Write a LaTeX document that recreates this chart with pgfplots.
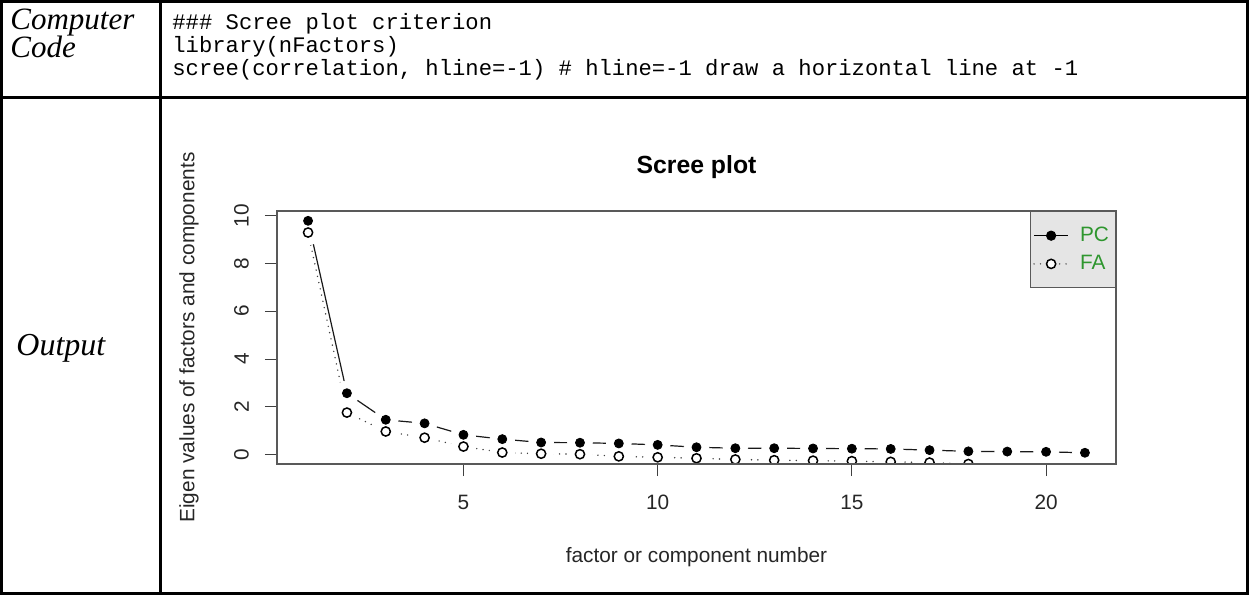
\documentclass[border=0pt]{standalone}
\usepackage{fontspec}
\setmainfont{Liberation Sans}
\newfontfamily\tnr{Liberation Serif}
\newfontfamily\cour{Liberation Mono}
\usepackage{pgfplots}
\pgfplotsset{compat=1.18}
\usepackage{pgfplotstable}

\pgfplotstableread{
x pc fa
1 9.78 9.29
2 2.57 1.76
3 1.46 0.97
4 1.31 0.71
5 0.83 0.34
6 0.65 0.09
7 0.51 0.04
8 0.50 0.02
9 0.47 -0.07
10 0.41 -0.11
11 0.31 -0.15
12 0.27 -0.20
13 0.27 -0.23
14 0.26 -0.25
15 0.25 -0.27
16 0.24 -0.30
17 0.19 -0.33
18 0.14 -0.39
19 0.13 -0.44
20 0.12 -0.52
21 0.08 -0.56
}\screedata

\definecolor{leggreen}{RGB}{46,150,46}
\definecolor{legbg}{RGB}{229,229,229}

\begin{document}
\begin{tikzpicture}
\useasboundingbox (0,0) rectangle (624.5pt,-297.5pt);
% table frame
\draw[line width=1.5pt] (0.75pt,-0.75pt) rectangle (623.75pt,-296.75pt);
\draw[line width=1.5pt] (80pt,-0.75pt) -- (80pt,-296.75pt);
\draw[line width=1.5pt] (0.75pt,-48.5pt) -- (623.75pt,-48.5pt);
% left column
\node[anchor=base west, inner sep=0pt, font=\tnr\itshape\fontsize{15.5}{19}\selectfont] at (5pt,-14.5pt) {Computer};
\node[anchor=base west, inner sep=0pt, font=\tnr\itshape\fontsize{15.5}{19}\selectfont] at (5pt,-28.5pt) {Code};
\node[anchor=base west, inner sep=0pt, font=\tnr\itshape\fontsize{16}{19}\selectfont] at (8pt,-177.5pt) {Output};
% code
\node[anchor=base west, inner sep=0pt, font=\cour\fontsize{11.1}{13}\selectfont] at (86pt,-14.5pt) {\#\#\# Scree plot criterion};
\node[anchor=base west, inner sep=0pt, font=\cour\fontsize{11.1}{13}\selectfont] at (86pt,-26pt) {library(nFactors)};
\node[anchor=base west, inner sep=0pt, font=\cour\fontsize{11.1}{13}\selectfont] at (86pt,-37.5pt) {scree(correlation, hline=-1) \# hline=-1 draw a horizontal line at -1};
\begin{axis}[
  at={(138.5pt,-232pt)}, anchor=south west,
  scale only axis, width=419.5pt, height=126.5pt,
  xmin=0.2, xmax=21.8, ymin=-0.39, ymax=10.19,
  xtick={5,10,15,20}, ytick={0,2,4,6,8,10},
  tick pos=left, tick align=outside, major tick length=6pt,
  tick style={black!75, line width=0.5pt},
  axis line style={black!65, line width=0.6pt},
  axis on top, clip marker paths=true,
  /pgf/number format/assume math mode=true,
  ticklabel style={font=\fontsize{10.4}{12}\selectfont, text=black!85},
  xticklabel style={yshift=-6pt},
  yticklabel style={xshift=-4.5pt, rotate=90, anchor=south},
  title={Scree plot},
  title style={font=\bfseries\fontsize{12.4}{14}\selectfont, at={(axis description cs:0.5,1.10)}, anchor=base},
  xlabel={factor or component number},
  xlabel style={font=\fontsize{10.4}{12}\selectfont, text=black!85, at={(axis description cs:0.5,-0.389)}, anchor=base},
  ylabel={Eigen values of factors and components},
  ylabel style={font=\fontsize{10.4}{12}\selectfont, text=black!85, at={(axis description cs:-0.1049,0.5)}, anchor=center},
  legend style={at={(1,1)}, anchor=north east, fill=legbg, draw=black!65, line width=0.5pt,
    font=\fontsize{10.4}{12}\selectfont, text=leggreen, inner xsep=1.3pt, inner ysep=5pt,
    nodes={inner ysep=2.7pt, inner xsep=2pt},
    /tikz/every odd column/.append style={column sep=3.5pt}},
  legend cell align=left,
]
% lines
\addplot[black!90, line width=0.6pt, mark=none, forget plot] table[x=x, y=pc] {\screedata};
\addplot[black!75, line width=0.8pt, line cap=round, dash pattern=on 0pt off 3.2pt, mark=none, forget plot] table[x=x, y=fa] {\screedata};
% gaps (type "b")
\addplot[white, only marks, mark=*, mark size=6.2pt, mark options={white}, forget plot] table[x=x, y=pc] {\screedata};
\addplot[white, only marks, mark=*, mark size=6.2pt, mark options={white}, forget plot] table[x=x, y=fa] {\screedata};
% points
\addplot[black, only marks, mark=*, mark size=2.25pt, mark options={draw=black, fill=black}, forget plot] table[x=x, y=pc] {\screedata};
\addplot[black, only marks, mark=*, mark size=2.3pt, mark options={draw=black, fill=white, line width=0.75pt}, forget plot] table[x=x, y=fa] {\screedata};
% legend
\addlegendimage{black, line width=0.6pt, mark=*, mark size=2.25pt, mark options={draw=black, fill=black}}
\addlegendentry{PC}
\addlegendimage{black!70, line width=0.8pt, line cap=round, dash pattern=on 0pt off 3.2pt, mark=*, mark size=2.3pt, mark options={solid, draw=black, fill=white, line width=0.75pt}}
\addlegendentry{FA}
\end{axis}
\end{tikzpicture}
\end{document}
